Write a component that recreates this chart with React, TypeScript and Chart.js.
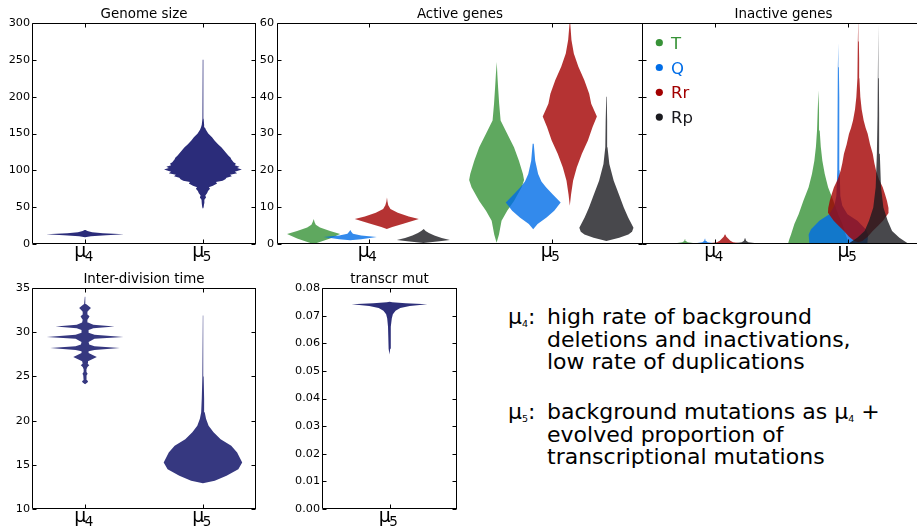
import React, { useEffect, useRef } from "react";
import { Chart, registerables } from "chart.js";

Chart.register(...registerables);

type Pair = [number, number]; // [value, half-width in category units]

const FONT = '"DejaVu Sans", sans-serif';

// ---------- categories / legend ----------
// category labels: [symbol, subscript]  -> drawn as μ₄, μ₅
const groupLabels = [["μ", "4"], ["μ", "5"]];
const transcrLabels = [["μ", "5"]];
const geneNames = ["T", "Q", "Rr", "Rp"];
const geneColors = ["rgb(55,146,55)", "rgb(0,109,231)", "rgb(162,0,0)", "rgb(26,26,31)"];
const geneFills = ["rgba(55,146,55,0.8)", "rgba(0,109,231,0.8)", "rgba(162,0,0,0.8)", "rgba(26,26,31,0.8)"];
const activeOffsets = [-0.3, -0.1, 0.1, 0.3];
const inactiveOffsets = [-0.225, -0.075, 0.075, 0.225];
const navyGenome = "rgb(43,44,122)";
const navyTime = "rgb(54,56,128)";
const navyTranscr = "rgb(45,47,122)";

// ---------- y ticks: [min, max, step] ----------
const genomeYTicks = [0, 300, 50];
const geneYTicks = [0, 60, 10];
const timeYTicks = [10, 35, 5];
const transcrYTicks = [0, 0.08, 0.01];

// ---------- Genome size ----------
const genomeMu4: Pair[] = [[9, 0], [10.5, 0.05], [12, 0.18], [13.2, 0.33], [14.5, 0.15], [16, 0.06], [17.5, 0.02], [19, 0.004]];
const genomeMu5: Pair[] = [
  [48, 0], [50, 0.006], [55, 0.01], [60, 0.012], [63, 0.026], [66, 0.02], [69, 0.035], [72, 0.043],
  [75, 0.06], [77, 0.05], [79, 0.085], [82, 0.12], [84, 0.11], [86, 0.167], [88, 0.19], [90, 0.2],
  [92, 0.245], [94, 0.23], [96, 0.29], [98, 0.27], [100, 0.31], [101, 0.33], [103, 0.29], [105, 0.31],
  [107, 0.27], [109, 0.28], [111, 0.26], [113, 0.25], [115, 0.24], [117, 0.235], [120, 0.215],
  [125, 0.19], [131, 0.158], [135, 0.13], [140, 0.1], [145, 0.077], [150, 0.045], [155, 0.025],
  [158, 0.017], [162, 0.01], [170, 0.006], [180, 0.005], [200, 0.004], [225, 0.003], [250, 0.002],
];

// ---------- Active genes ----------
const activeMu4T: Pair[] = [[0, 0], [0.5, 0.03], [1.5, 0.09], [2.7, 0.145], [3.5, 0.09], [4.5, 0.035], [5.2, 0.012], [6, 0.005], [6.8, 0.001]];
const activeMu4Q: Pair[] = [[1, 0], [1.3, 0.06], [1.9, 0.145], [2.3, 0.06], [2.8, 0.015], [3.3, 0.006], [3.8, 0.001]];
const activeMu4Rr: Pair[] = [[4.1, 0], [4.6, 0.03], [5.5, 0.09], [6.8, 0.175], [7.5, 0.12], [8.5, 0.06], [9.5, 0.02], [10.5, 0.008], [11.5, 0.004], [12.6, 0.001]];
const activeMu4Rp: Pair[] = [[0.3, 0], [0.8, 0.1], [1.1, 0.145], [1.6, 0.1], [2.3, 0.06], [3, 0.03], [3.5, 0.012], [4.1, 0.002]];
const activeMu5T: Pair[] = [[0.35, 0], [2.6, 0.013], [6.3, 0.027], [9, 0.058], [11.7, 0.095], [15.4, 0.137], [17.4, 0.15], [19, 0.144], [22.6, 0.122], [26.3, 0.095], [29.9, 0.058], [33.5, 0.022], [38.1, 0.014], [42.6, 0.008], [46, 0.004], [49.4, 0.001]];
const activeMu5Q: Pair[] = [[4, 0], [5.4, 0.024], [7.2, 0.073], [9, 0.115], [11.3, 0.15], [13.5, 0.106], [15.4, 0.07], [17, 0.045], [19, 0.027], [22.6, 0.011], [27.2, 0.003]];
const activeMu5Rr: Pair[] = [[10.4, 0], [13.5, 0.007], [17.2, 0.018], [20.8, 0.038], [24.5, 0.066], [28.1, 0.099], [31.7, 0.124], [34.6, 0.148], [38.1, 0.117], [40.8, 0.106], [44.5, 0.079], [48.1, 0.047], [51.7, 0.022], [55.4, 0.009], [59.5, 0.003], [61, 0.001]];
const activeMu5Rp: Pair[] = [[0.8, 0], [1.7, 0.07], [2.6, 0.12], [3.3, 0.14], [4.4, 0.148], [7.2, 0.119], [9.9, 0.095], [13.5, 0.068], [17.2, 0.04], [21.7, 0.016], [26.3, 0.006], [33.5, 0.004], [40, 0.002], [47.2, 0.001]];

// ---------- Inactive genes ----------
const inactiveMu4T: Pair[] = [[0, 0.21], [0.15, 0.15], [0.3, 0.06], [0.5, 0.02], [0.8, 0.006], [1.3, 0.002]];
const inactiveMu4Q: Pair[] = [[0, 0.2], [0.15, 0.14], [0.3, 0.06], [0.5, 0.02], [0.9, 0.006], [1.45, 0.002]];
const inactiveMu4Rr: Pair[] = [[0, 0.2], [0.2, 0.12], [0.5, 0.06], [0.9, 0.04], [1.4, 0.025], [2, 0.01], [2.6, 0.002]];
const inactiveMu4Rp: Pair[] = [[0, 0.225], [0.15, 0.15], [0.3, 0.07], [0.5, 0.025], [0.9, 0.008], [1.55, 0.002]];
const inactiveMu5T: Pair[] = [[0.3, 0.226], [1.3, 0.218], [2.6, 0.205], [5.4, 0.18], [8.1, 0.148], [11.7, 0.113], [15.4, 0.073], [19, 0.048], [22.6, 0.03], [26.5, 0.018], [30.8, 0.01], [36, 0.005], [41.7, 0.001]];
const inactiveMu5Q: Pair[] = [[0.3, 0.218], [2.6, 0.223], [4, 0.205], [6.3, 0.143], [8.1, 0.068], [10.4, 0.03], [13, 0.015], [20, 0.01], [30, 0.008], [40, 0.006], [48, 0.004], [54.5, 0.001]];
const inactiveMu5Rr: Pair[] = [[0.5, 0], [0.8, 0.03], [2, 0.07], [3.5, 0.108], [5, 0.15], [6.3, 0.185], [8.5, 0.228], [9.8, 0.226], [11.7, 0.215], [13.5, 0.2], [15.4, 0.183], [17.5, 0.155], [19.9, 0.133], [22, 0.12], [24.5, 0.108], [27, 0.088], [29.9, 0.07], [31.5, 0.055], [33.5, 0.04], [36.5, 0.025], [39.9, 0.015], [45, 0.008], [50, 0.006], [55, 0.004], [62, 0.002]];
const inactiveMu5Rp: Pair[] = [[0.2, 0.22], [1.7, 0.158], [3.5, 0.103], [6.3, 0.07], [9.9, 0.038], [15.4, 0.02], [24.5, 0.011], [35, 0.006], [45, 0.004], [59.5, 0.001]];

// ---------- Inter-division time ----------
const timeMu4: Pair[] = [
  [24.1, 0], [24.3, 0.02], [24.45, 0.026], [24.6, 0.015], [24.85, 0.01], [25.1, 0.015], [25.3, 0.022],
  [25.5, 0.012], [25.8, 0.012], [26.05, 0.02], [26.25, 0.036], [26.45, 0.02], [26.7, 0.025], [26.95, 0.06],
  [27.2, 0.1], [27.45, 0.06], [27.65, 0.03], [27.85, 0.03], [28.0, 0.08], [28.2, 0.295], [28.4, 0.08],
  [28.6, 0.035], [28.9, 0.03], [29.25, 0.08], [29.47, 0.325], [29.7, 0.08], [29.95, 0.03], [30.25, 0.03],
  [30.45, 0.07], [30.65, 0.25], [30.85, 0.07], [31.1, 0.025], [31.4, 0.02], [31.6, 0.03], [31.8, 0.038],
  [32.0, 0.02], [32.3, 0.02], [32.55, 0.035], [32.75, 0.05], [32.95, 0.03], [33.2, 0.008], [34.0, 0.002],
];
const timeMu5: Pair[] = [[12.9, 0], [13.2, 0.1], [13.75, 0.2], [14.5, 0.3], [15.26, 0.333], [16.4, 0.29], [17.16, 0.24], [17.9, 0.15], [18.67, 0.09], [19.43, 0.048], [20.2, 0.026], [20.95, 0.015], [22.5, 0.01], [25, 0.006], [28, 0.004], [31.9, 0.001]];

// ---------- transcr mut ----------
const transcrMu5: Pair[] = [[0.0559, 0], [0.058, 0.005], [0.062, 0.008], [0.066, 0.011], [0.069, 0.017], [0.0705, 0.025], [0.0718, 0.045], [0.0728, 0.08], [0.0735, 0.15], [0.0741, 0.28], [0.0745, 0.12], [0.0748, 0.02], [0.075, 0.002]];

// ---------- description text ----------
const mu4Lines = ["high rate of background", "deletions and inactivations,", "low rate of duplications"];
const mu5Lines = ["background mutations as ", "evolved proportion of", "transcriptional mutations"];

type Violin = { pos: number; profile: Pair[]; color: string };

function violinPoints(v: Violin) {
  const right = v.profile.map(([val, w]) => ({ x: v.pos + w, y: val }));
  const left = v.profile.slice().reverse().map(([val, w]) => ({ x: v.pos - w, y: val }));
  return [...right, ...left];
}

type PanelProps = {
  box: number[]; // page left, top, width, height
  area: number[]; // chart area left, top, right, bottom within the canvas
  xRange: number[];
  yTicks: number[];
  yDecimals: number;
  yLabels: boolean;
  yPad: number;
  labels: string[][];
  title: string;
  titleShift: number;
  violins: Violin[];
  rightSpine: boolean;
  legend: boolean;
};

function Panel(p: PanelProps) {
  const ref = useRef<HTMLCanvasElement>(null);
  useEffect(() => {
    const canvas = ref.current!;
    const [, , bw, bh] = p.box;
    const [al, at, ar, ab] = p.area;
    const [ymin, ymax, ystep] = p.yTicks;
    const n = p.violins.length;
    const datasets = p.violins.map((v, i) => ({
      data: violinPoints(v),
      order: n - i, // later violins are painted on top
      showLine: true,
      fill: "shape",
      backgroundColor: v.color,
      borderColor: "rgba(0,0,0,0)",
      borderWidth: 0,
      pointRadius: 0,
      pointHoverRadius: 0,
      tension: 0,
    }));
    const overlay = {
      id: "overlay",
      afterDraw(chart: any) {
        const { ctx, chartArea: a } = chart;
        const xs = chart.scales.x;
        const ys = chart.scales.y;
        const L = a.left + 0.5, T = a.top + 0.5, R = a.right - 0.5, B = a.bottom - 0.5;
        ctx.save();
        ctx.strokeStyle = "#000";
        ctx.lineWidth = 1;
        ctx.beginPath();
        ctx.moveTo(L, T); ctx.lineTo(L, B); ctx.lineTo(a.right, B);
        ctx.moveTo(L, T); ctx.lineTo(a.right, T);
        if (p.rightSpine) { ctx.moveTo(R, T); ctx.lineTo(R, B); }
        for (const t of ys.ticks) {
          const py = Math.round(ys.getPixelForValue(t.value)) + 0.5;
          ctx.moveTo(L, py); ctx.lineTo(L + 4, py);
          if (p.rightSpine) { ctx.moveTo(R, py); ctx.lineTo(R - 4, py); }
        }
        for (const t of xs.ticks) {
          const px = Math.round(xs.getPixelForValue(t.value)) + 0.5;
          ctx.moveTo(px, B); ctx.lineTo(px, B - 4);
          ctx.moveTo(px, T); ctx.lineTo(px, T + 4);
        }
        ctx.stroke();
        // category labels (symbol + subscript), placed at the x scale's ticks
        ctx.fillStyle = "#000";
        ctx.textAlign = "left";
        ctx.textBaseline = "alphabetic";
        xs.ticks.forEach((t: any, i: number) => {
          const lab = p.labels[i];
          if (!lab) return;
          const px = xs.getPixelForValue(t.value);
          const x0 = px - 10.8;
          const base = a.bottom + 13;
          ctx.font = `19px ${FONT}`;
          ctx.fillText(lab[0], x0, base);
          const w = ctx.measureText(lab[0]).width;
          ctx.font = `13.5px ${FONT}`;
          ctx.fillText(lab[1], x0 + w - 1.5, base + 4);
        });
        // title
        ctx.font = `13.4px ${FONT}`;
        ctx.textAlign = "center";
        ctx.fillText(p.title, (a.left + a.right) / 2 + p.titleShift, a.top - 5);
        // legend
        if (p.legend) {
          geneNames.forEach((name, i) => {
            const cy = a.top + 19.7 + i * 24.8;
            ctx.fillStyle = geneColors[i];
            ctx.beginPath();
            ctx.arc(a.left + 17.3, cy, 3.6, 0, Math.PI * 2);
            ctx.fill();
            ctx.font = `16.5px ${FONT}`;
            ctx.textAlign = "left";
            ctx.fillText(name, a.left + 29, cy + 6);
          });
        }
        ctx.restore();
      },
    };
    const chart = new Chart(canvas, {
      type: "scatter",
      data: { datasets } as any,
      options: {
        animation: false,
        responsive: false,
        maintainAspectRatio: false,
        events: [],
        layout: { padding: { top: at, right: bw - ar, left: 0, bottom: 0 } },
        plugins: { legend: { display: false }, tooltip: { enabled: false }, title: { display: false } },
        scales: {
          x: {
            type: "linear",
            min: p.xRange[0],
            max: p.xRange[1],
            grid: { display: false, drawTicks: false },
            border: { display: false },
            afterBuildTicks: (s: any) => {
              s.ticks = p.labels.map((_, i) => ({ value: i + 1 }));
            },
            afterFit: (s: any) => {
              s.height = bh - ab;
            },
            ticks: { display: false, autoSkip: false, maxRotation: 0 },
          },
          y: {
            type: "linear",
            min: ymin,
            max: ymax,
            grid: { display: false, drawTicks: false },
            border: { display: false },
            afterFit: (s: any) => {
              s.width = al;
            },
            ticks: {
              display: p.yLabels,
              stepSize: ystep,
              padding: p.yPad,
              color: "#000",
              font: { family: FONT, size: 11.2 },
              callback: (v: any) => Number(v).toFixed(p.yDecimals),
            },
          },
        },
      } as any,
      plugins: [overlay],
    });
    return () => chart.destroy();
  }, []);
  const [bl, bt, bw, bh] = p.box;
  return (
    <canvas
      ref={ref}
      width={bw}
      height={bh}
      style={{ position: "absolute", left: bl, top: bt, width: bw, height: bh }}
    />
  );
}

const Sub = ({ n }: { n: string }) => (
  <span style={{ fontSize: 9.5, lineHeight: 0, position: "relative", top: 3 }}>{n}</span>
);

export default function App() {
  const activeViolins: Violin[] = [
    ...[activeMu4T, activeMu4Q, activeMu4Rr, activeMu4Rp].map((pr, i) => ({ pos: 1 + activeOffsets[i], profile: pr, color: geneFills[i] })),
    ...[activeMu5T, activeMu5Q, activeMu5Rr, activeMu5Rp].map((pr, i) => ({ pos: 2 + activeOffsets[i], profile: pr, color: geneFills[i] })),
  ];
  const inactiveViolins: Violin[] = [
    ...[inactiveMu4T, inactiveMu4Q, inactiveMu4Rr, inactiveMu4Rp].map((pr, i) => ({ pos: 1 + inactiveOffsets[i], profile: pr, color: geneFills[i] })),
    ...[inactiveMu5T, inactiveMu5Q, inactiveMu5Rr, inactiveMu5Rp].map((pr, i) => ({ pos: 2 + inactiveOffsets[i], profile: pr, color: geneFills[i] })),
  ];
  const textStyle: React.CSSProperties = { display: "flex" };
  const labelStyle: React.CSSProperties = { width: 39, flex: "none" };
  return (
    <div style={{ position: "absolute", left: 0, top: 0, width: 917, height: 529, overflow: "hidden", background: "#fff" }}>
      <Panel
        box={[0, 0, 262, 265]} area={[32, 23, 256, 244]} xRange={[0.55, 2.45]}
        yTicks={genomeYTicks} yDecimals={0} yLabels={true} yPad={2} labels={groupLabels}
        title="Genome size" titleShift={0} rightSpine={true} legend={false}
        violins={[
          { pos: 1, profile: genomeMu4, color: navyGenome },
          { pos: 2, profile: genomeMu5, color: navyGenome },
        ]}
      />
      <Panel
        box={[250, 0, 396, 265]} area={[27, 23, 393, 244]} xRange={[0.5, 2.5]}
        yTicks={geneYTicks} yDecimals={0} yLabels={true} yPad={3} labels={groupLabels}
        title="Active genes" titleShift={0} rightSpine={true} legend={false}
        violins={activeViolins}
      />
      <Panel
        box={[636, 0, 281, 265]} area={[6, 23, 281, 244]} xRange={[0.452, 2.515]}
        yTicks={geneYTicks} yDecimals={0} yLabels={false} yPad={3} labels={groupLabels}
        title="Inactive genes" titleShift={4} rightSpine={false} legend={true}
        violins={inactiveViolins}
      />
      <Panel
        box={[0, 265, 262, 264]} area={[32, 23, 256, 244]} xRange={[0.55, 2.45]}
        yTicks={timeYTicks} yDecimals={0} yLabels={true} yPad={2} labels={groupLabels}
        title="Inter-division time" titleShift={0} rightSpine={true} legend={false}
        violins={[
          { pos: 1, profile: timeMu4, color: navyTime },
          { pos: 2, profile: timeMu5, color: navyTime },
        ]}
      />
      <Panel
        box={[285, 265, 176, 264]} area={[37, 23, 172, 244]} xRange={[0.5, 1.5]}
        yTicks={transcrYTicks} yDecimals={2} yLabels={true} yPad={2} labels={transcrLabels}
        title="transcr mut" titleShift={0} rightSpine={true} legend={false}
        violins={[{ pos: 1, profile: transcrMu5, color: navyTranscr }]}
      />
      <div
        style={{
          position: "absolute", left: 508, top: 306, fontFamily: FONT, fontSize: 22,
          lineHeight: "22.5px", color: "#000", whiteSpace: "nowrap",
        }}
      >
        <div style={textStyle}>
          <span style={labelStyle}>μ<Sub n="4" />:</span>
          <div>{mu4Lines.map((l) => (<div key={l}>{l}</div>))}</div>
        </div>
        <div style={{ ...textStyle, marginTop: 27.5 }}>
          <span style={labelStyle}>μ<Sub n="5" />:</span>
          <div>
            <div>{mu5Lines[0]}μ<Sub n="4" /> +</div>
            <div>{mu5Lines[1]}</div>
            <div>{mu5Lines[2]}</div>
          </div>
        </div>
      </div>
    </div>
  );
}
